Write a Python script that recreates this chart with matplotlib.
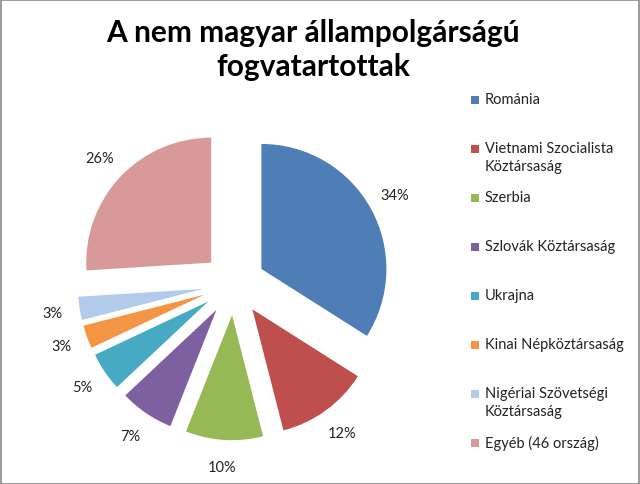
import matplotlib
matplotlib.use("Agg")
import matplotlib.pyplot as plt
from matplotlib.patches import Rectangle

categories = ["Románia", "Vietnami Szocialista\nKöztársaság", "Szerbia",
              "Szlovák Köztársaság", "Ukrajna", "Kinai Népköztársaság",
              "Nigériai Szövetségi\nKöztársaság", "Egyéb (46 ország)"]
values = [34, 12, 10, 7, 5, 3, 3, 26]
colors = ["#4F7DB5", "#BE4F4C", "#96B956", "#7D60A0", "#46AAC4",
          "#F39544", "#B3CBEA", "#D89A99"]

plt.rcParams['font.family'] = ['Lato', 'DejaVu Sans']

fig = plt.figure(figsize=(6.4, 4.85), dpi=100)
fig.patch.set_facecolor("white")

W, H = 640, 485
cx, cy, R = 234, 200, 125
half = 1.6
ax = fig.add_axes([(cx - half * R) / W, (cy - half * R) / H,
                   2 * half * R / W, 2 * half * R / H])

wedges, texts, autotexts = ax.pie(
    values, colors=colors, startangle=90, counterclock=False,
    explode=[0.25] * len(values), radius=1.0,
    autopct=lambda p: f"{p:.0f}%", pctdistance=1.22,
    wedgeprops=dict(linewidth=0),
    textprops=dict(fontsize=10.5, color="#222222"))

ax.set_xlim(-half, half)
ax.set_ylim(-half, half)
ax.set_aspect('equal')
ax.axis('off')

fig.text(313 / W, 1 - 33 / H, "A nem magyar állampolgárságú",
         ha="center", va="center", fontsize=21.5, fontweight="bold")
fig.text(313 / W, 1 - 67 / H, "fogvatartottak",
         ha="center", va="center", fontsize=21.5, fontweight="bold")

# legend
ys = [101, 150, 199, 248, 297, 346, 395, 444]
for lab, col, y in zip(categories, colors, ys):
    fig.patches.append(Rectangle((471 / W, 1 - (y + 4) / H), 8 / W, 8 / H,
                                 transform=fig.transFigure, facecolor=col,
                                 edgecolor="none"))
    fig.text(485 / W, 1 - (y - 8) / H, lab, ha="left", va="top",
             fontsize=10.5, color="#222222", linespacing=1.35)

fig.patches.append(Rectangle((0.5 / W, 0.5 / H), 1 - 1.5 / W, 1 - 1.5 / H,
                             transform=fig.transFigure, facecolor="none",
                             edgecolor="#8a8a8a", linewidth=1.2))

fig.savefig("out.png", dpi=100)
